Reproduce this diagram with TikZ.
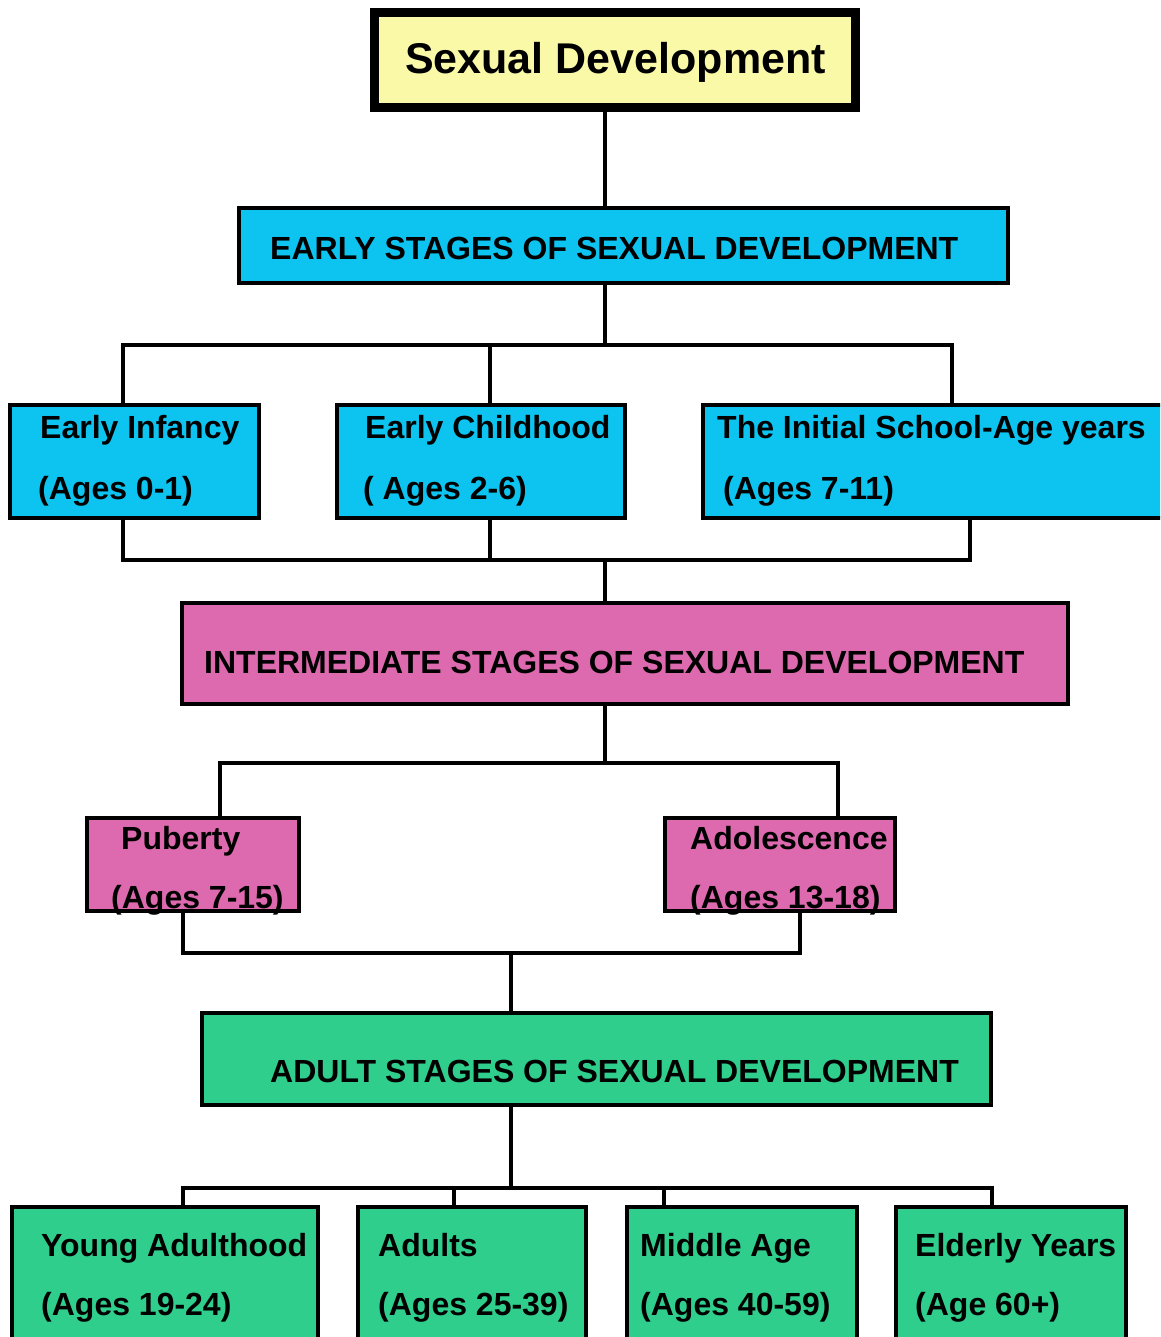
\documentclass[tikz,border=0pt]{standalone}
\usepackage{fontspec}
\setmainfont{Liberation Sans}
\usetikzlibrary{fit}

\definecolor{titlefill}{RGB}{250,249,168}
\definecolor{earlyfill}{RGB}{13,196,240}
\definecolor{midfill}{RGB}{221,105,174}
\definecolor{adultfill}{RGB}{48,206,141}

\tikzset{
  box/.style={draw=black, line width=4.5pt, inner sep=0pt},
  titlebox/.style={draw=black, line width=9pt, inner sep=0pt, fill=titlefill},
  earlybox/.style={box, fill=earlyfill},
  midbox/.style={box, fill=midfill},
  adultbox/.style={box, fill=adultfill},
  lbl/.style={anchor=base west, inner sep=0pt,
    font=\fontsize{32}{36}\selectfont\bfseries},
  titlelbl/.style={anchor=base west, inner sep=0pt,
    font=\fontsize{43}{48}\selectfont\bfseries},
  wire/.style={draw=black, line width=4pt, line join=miter}
}

\begin{document}
\begin{tikzpicture}[x=1pt, y=-1pt]
\clip (0,0) rectangle (1160,1337);
\fill[white] (0,0) rectangle (1160,1337);

% ---------- boxes ----------
\node[titlebox, fit={(374.5,12.5) (855.5,107.5)}] (title) {};
\node[earlybox, fit={(239,208) (1008,283)}] (early) {};
\node[earlybox, fit={(10,405) (259,518)}] (inf) {};
\node[earlybox, fit={(337,405) (625,518)}] (child) {};
\node[earlybox, fit={(703,405) (1200,518)}] (school) {};
\node[midbox, fit={(182,603) (1068,704)}] (inter) {};
\node[midbox, fit={(87,818) (299,911)}] (pub) {};
\node[midbox, fit={(665,818) (895,911)}] (ado) {};
\node[adultbox, fit={(202,1013) (991,1105)}] (adult) {};
\node[adultbox, fit={(12,1207) (318,1360)}] (young) {};
\node[adultbox, fit={(358,1207) (586,1360)}] (adults) {};
\node[adultbox, fit={(627,1207) (857,1360)}] (middle) {};
\node[adultbox, fit={(896,1207) (1126,1360)}] (elderly) {};

% ---------- bus points ----------
\coordinate (t1) at (605,0);
\coordinate (b1) at (605,345);
\coordinate (b2) at (605,560);
\coordinate (b3) at (605,763);
\coordinate (b4) at (511,953);
\coordinate (b5) at (511,1188);
\coordinate (d1) at (123,0);
\coordinate (d2) at (490,0);
\coordinate (d3) at (952,0);
\coordinate (e3) at (970,0);
\coordinate (f1) at (220,0);
\coordinate (f2) at (838,0);
\coordinate (g1) at (183,0);
\coordinate (g2) at (800,0);
\coordinate (h1) at (183,0);
\coordinate (h2) at (454,0);
\coordinate (h3) at (664,0);
\coordinate (h4) at (992,0);

% ---------- connectors ----------
\draw[wire] (title.south -| t1) -- (early.north -| t1);

\draw[wire] (early.south -| b1) -- (b1);
\draw[wire] (inf.north -| d1) |- (b1) -| (school.north -| d3);
\draw[wire] (child.north -| d2) -- (d2 |- b1);

\draw[wire] (inf.south -| d1) |- (b2) -| (school.south -| e3);
\draw[wire] (child.south -| d2) -- (d2 |- b2);
\draw[wire] (b2) -- (inter.north -| b2);

\draw[wire] (inter.south -| b3) -- (b3);
\draw[wire] (pub.north -| f1) |- (b3) -| (ado.north -| f2);

\draw[wire] (pub.south -| g1) |- (b4) -| (ado.south -| g2);
\draw[wire] (b4) -- (adult.north -| b4);

\draw[wire] (adult.south -| b5) -- (b5);
\draw[wire] (young.north -| h1) |- (b5) -| (elderly.north -| h4);
\draw[wire] (adults.north -| h2) -- (h2 |- b5);
\draw[wire] (middle.north -| h3) -- (h3 |- b5);

% ---------- labels ----------
\node[titlelbl] (titletxt) at (405,74) {Sexual Development};
\node[lbl] (earlytxt) at (270,260) {EARLY STAGES OF SEXUAL DEVELOPMENT};

\node[lbl] (inf1) at (40,438) {Early Infancy};
\node[lbl] (inf2) at (38,499) {(Ages 0-1)};
\node[lbl] (child1) at (365,438) {Early Childhood};
\node[lbl] (child2) at (363,499) {( Ages 2-6)};
\node[lbl] (school1) at (717,438) {The Initial School-Age years};
\node[lbl] (school2) at (723,499) {(Ages 7-11)};

\node[lbl] (intertxt) at (204,673) {INTERMEDIATE STAGES OF SEXUAL DEVELOPMENT};

\node[lbl] (pub1) at (121,849) {Puberty};
\node[lbl] (pub2) at (111,908) {(Ages 7-15)};
\node[lbl] (ado1) at (690,849) {Adolescence};
\node[lbl] (ado2) at (690,908) {(Ages 13-18)};

\node[lbl] (adulttxt) at (270,1082) {ADULT STAGES OF SEXUAL DEVELOPMENT};

\node[lbl] (young1) at (41,1256) {Young Adulthood};
\node[lbl] (young2) at (41,1315) {(Ages 19-24)};
\node[lbl] (adults1) at (378,1256) {Adults};
\node[lbl] (adults2) at (378,1315) {(Ages 25-39)};
\node[lbl] (middle1) at (640,1256) {Middle Age};
\node[lbl] (middle2) at (640,1315) {(Ages 40-59)};
\node[lbl] (elderly1) at (915,1256) {Elderly Years};
\node[lbl] (elderly2) at (915,1315) {(Age 60+)};
\end{tikzpicture}
\end{document}
